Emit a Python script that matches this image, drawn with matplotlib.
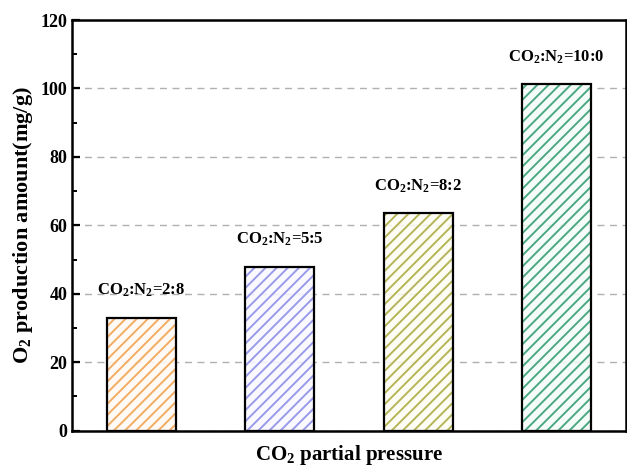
import numpy as np
import matplotlib.pyplot as plt

plt.rcParams['font.family'] = 'Liberation Serif'
plt.rcParams['font.weight'] = 'bold'
plt.rcParams['mathtext.fontset'] = 'custom'
plt.rcParams['mathtext.rm'] = 'Liberation Serif:bold'
plt.rcParams['mathtext.default'] = 'rm'
plt.rcParams['hatch.linewidth'] = 1.4

# data
ratios = ['2:8', '5:5', '8:2', '10:0']
o2_amount = [33.0, 47.8, 63.5, 101.2]
hatch_colors = ['#f0a04c', '#8a8ae6', '#a8a83c', '#2e9a6e']
fill_colors = ['#fffaf4', '#f8f8ff', '#fdfdf4', '#f4fcf8']

fig, ax = plt.subplots(figsize=(6.27, 4.67), dpi=100)
x = np.arange(len(ratios))

ax.yaxis.grid(True, linestyle=(0, (5, 4)), color='#b0b0b0', linewidth=1.0)
ax.set_axisbelow(True)

for i in range(len(ratios)):
    ax.bar(x[i], o2_amount[i], width=0.5, color=fill_colors[i], alpha=0.85,
           edgecolor=hatch_colors[i], hatch='///', linewidth=0, zorder=2)
    ax.bar(x[i], o2_amount[i], width=0.5, fill=False, edgecolor='black',
           linewidth=1.6, zorder=3)
    ax.text(x[i], o2_amount[i] + 5.5, 'CO$_2$:N$_2$=' + ratios[i],
            ha='center', va='bottom', fontsize=12, fontweight='bold')

ax.set_xlim(-0.5, 3.5)
ax.set_ylim(0, 120)
ax.set_yticks(np.arange(0, 121, 20))
ax.set_yticks(np.arange(10, 120, 20), minor=True)
ax.set_xticks([])
ax.tick_params(axis='y', which='major', direction='in', length=6, width=1.6, labelsize=13)
ax.tick_params(axis='y', which='minor', direction='in', length=3.5, width=1.4)
for s in ax.spines.values():
    s.set_linewidth(1.8)

ax.set_xlabel('CO$_2$ partial pressure', fontsize=15, fontweight='bold', labelpad=9)
ax.set_ylabel('O$_2$ production amount(mg/g)', fontsize=16, fontweight='bold', labelpad=4)

plt.subplots_adjust(left=0.115, right=0.998, top=0.957, bottom=0.078)
plt.savefig('out.png', dpi=100)
